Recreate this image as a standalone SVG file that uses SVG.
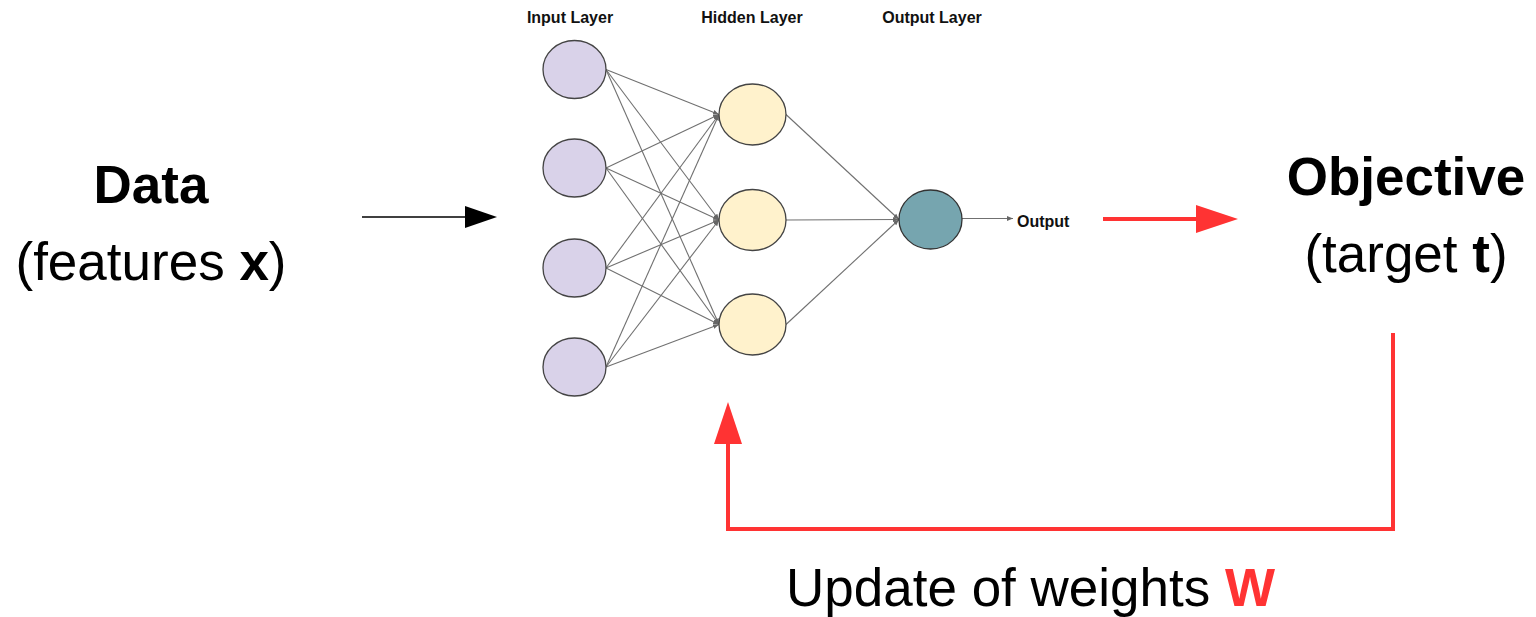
<svg xmlns="http://www.w3.org/2000/svg" width="1536" height="617" viewBox="0 0 1536 617">
  <style>
    .big { font-family: "Liberation Sans", Arial, sans-serif; font-size: 53px; fill: #000; }
    .b { font-weight: bold; }
    .lbl { font-family: "Liberation Sans", Arial, sans-serif; font-size: 16px; font-weight: bold; fill: #111; }
    .in { fill: #d9d2e9; stroke: #444; stroke-width: 1.3; }
    .hid { fill: #fff2cc; stroke: #444; stroke-width: 1.3; }
    .out { fill: #76a5af; stroke: #333; stroke-width: 1.3; }
    .edge { stroke: #707070; stroke-width: 1.1; fill: none; marker-end: url(#tip); }
    .red { stroke: #ff3333; stroke-width: 4; fill: none; }
  </style>
  <defs>
    <marker id="tip" viewBox="0 0 10 10" refX="10" refY="5" markerWidth="6" markerHeight="6" markerUnits="userSpaceOnUse" orient="auto">
      <path d="M0,1 L10,5 L0,9 z" fill="#666"/>
    </marker>
  </defs>
  <rect width="1536" height="617" fill="#fff"/>

  <!-- left side: data label -->
  <g id="data">
    <text class="big b" x="151" y="203" text-anchor="middle">Data</text>
    <text class="big" x="151" y="280" text-anchor="middle">(features <tspan class="b">x</tspan>)</text>
  </g>

  <!-- right side: objective label -->
  <g id="objective">
    <text class="big b" x="1406" y="195" text-anchor="middle">Objective</text>
    <text class="big" x="1406" y="272" text-anchor="middle">(target <tspan class="b">t</tspan>)</text>
  </g>

  <!-- layer headings -->
  <g id="layer-labels">
    <text class="lbl" x="570" y="23" text-anchor="middle">Input Layer</text>
    <text class="lbl" x="752" y="23" text-anchor="middle">Hidden Layer</text>
    <text class="lbl" x="932" y="23" text-anchor="middle">Output Layer</text>
  </g>

  <!-- network connections -->
  <g id="connectors">
    <line class="edge" x1="606" y1="69.5" x2="719" y2="114.5"/>
    <line class="edge" x1="606" y1="69.5" x2="719" y2="220"/>
    <line class="edge" x1="606" y1="69.5" x2="719" y2="324.5"/>
    <line class="edge" x1="606" y1="168" x2="719" y2="114.5"/>
    <line class="edge" x1="606" y1="168" x2="719" y2="220"/>
    <line class="edge" x1="606" y1="168" x2="719" y2="324.5"/>
    <line class="edge" x1="606" y1="268" x2="719" y2="114.5"/>
    <line class="edge" x1="606" y1="268" x2="719" y2="220"/>
    <line class="edge" x1="606" y1="268" x2="719" y2="324.5"/>
    <line class="edge" x1="606" y1="367" x2="719" y2="114.5"/>
    <line class="edge" x1="606" y1="367" x2="719" y2="220"/>
    <line class="edge" x1="606" y1="367" x2="719" y2="324.5"/>
    <line class="edge" x1="786" y1="114.5" x2="899" y2="219.5"/>
    <line class="edge" x1="786" y1="220" x2="899" y2="219.5"/>
    <line class="edge" x1="786" y1="324.5" x2="899" y2="219.5"/>
    <line class="edge" x1="962" y1="218.5" x2="1013" y2="218.5"/>

    <!-- data feed arrow -->
    <line x1="362" y1="217" x2="467" y2="217" stroke="#000" stroke-width="1.6"/>
    <polygon points="465,206 497,217 465,228" fill="#000"/>

    <!-- output to objective -->
    <line class="red" x1="1103" y1="219" x2="1198" y2="219"/>
    <polygon points="1196,205 1238,219 1196,233" fill="#ff3333"/>

    <!-- feedback loop -->
    <polyline class="red" points="1393,333 1393,529 728,529 728,442"/>
    <polygon points="714,444 728,402 742,444" fill="#ff3333"/>
  </g>

  <!-- input layer -->
  <g id="input-1"><ellipse class="in" cx="574.5" cy="69.5" rx="31.5" ry="29"/></g>
  <g id="input-2"><ellipse class="in" cx="574.5" cy="168" rx="31.5" ry="29"/></g>
  <g id="input-3"><ellipse class="in" cx="574.5" cy="268" rx="31.5" ry="29"/></g>
  <g id="input-4"><ellipse class="in" cx="574.5" cy="367" rx="31.5" ry="29"/></g>

  <!-- hidden layer -->
  <g id="hidden-1"><ellipse class="hid" cx="752.5" cy="114.5" rx="33.5" ry="30.5"/></g>
  <g id="hidden-2"><ellipse class="hid" cx="752.5" cy="220" rx="33.5" ry="30.5"/></g>
  <g id="hidden-3"><ellipse class="hid" cx="752.5" cy="324.5" rx="33.5" ry="30.5"/></g>

  <!-- output layer -->
  <g id="output-node"><ellipse class="out" cx="930.5" cy="219.5" rx="31.5" ry="29.5"/></g>
  <g id="output-label"><text class="lbl" x="1017" y="227">Output</text></g>

  <!-- feedback caption -->
  <g id="update">
    <text class="big" x="786" y="606">Update of weights <tspan class="b" fill="#ff3333">W</tspan></text>
  </g>
</svg>
